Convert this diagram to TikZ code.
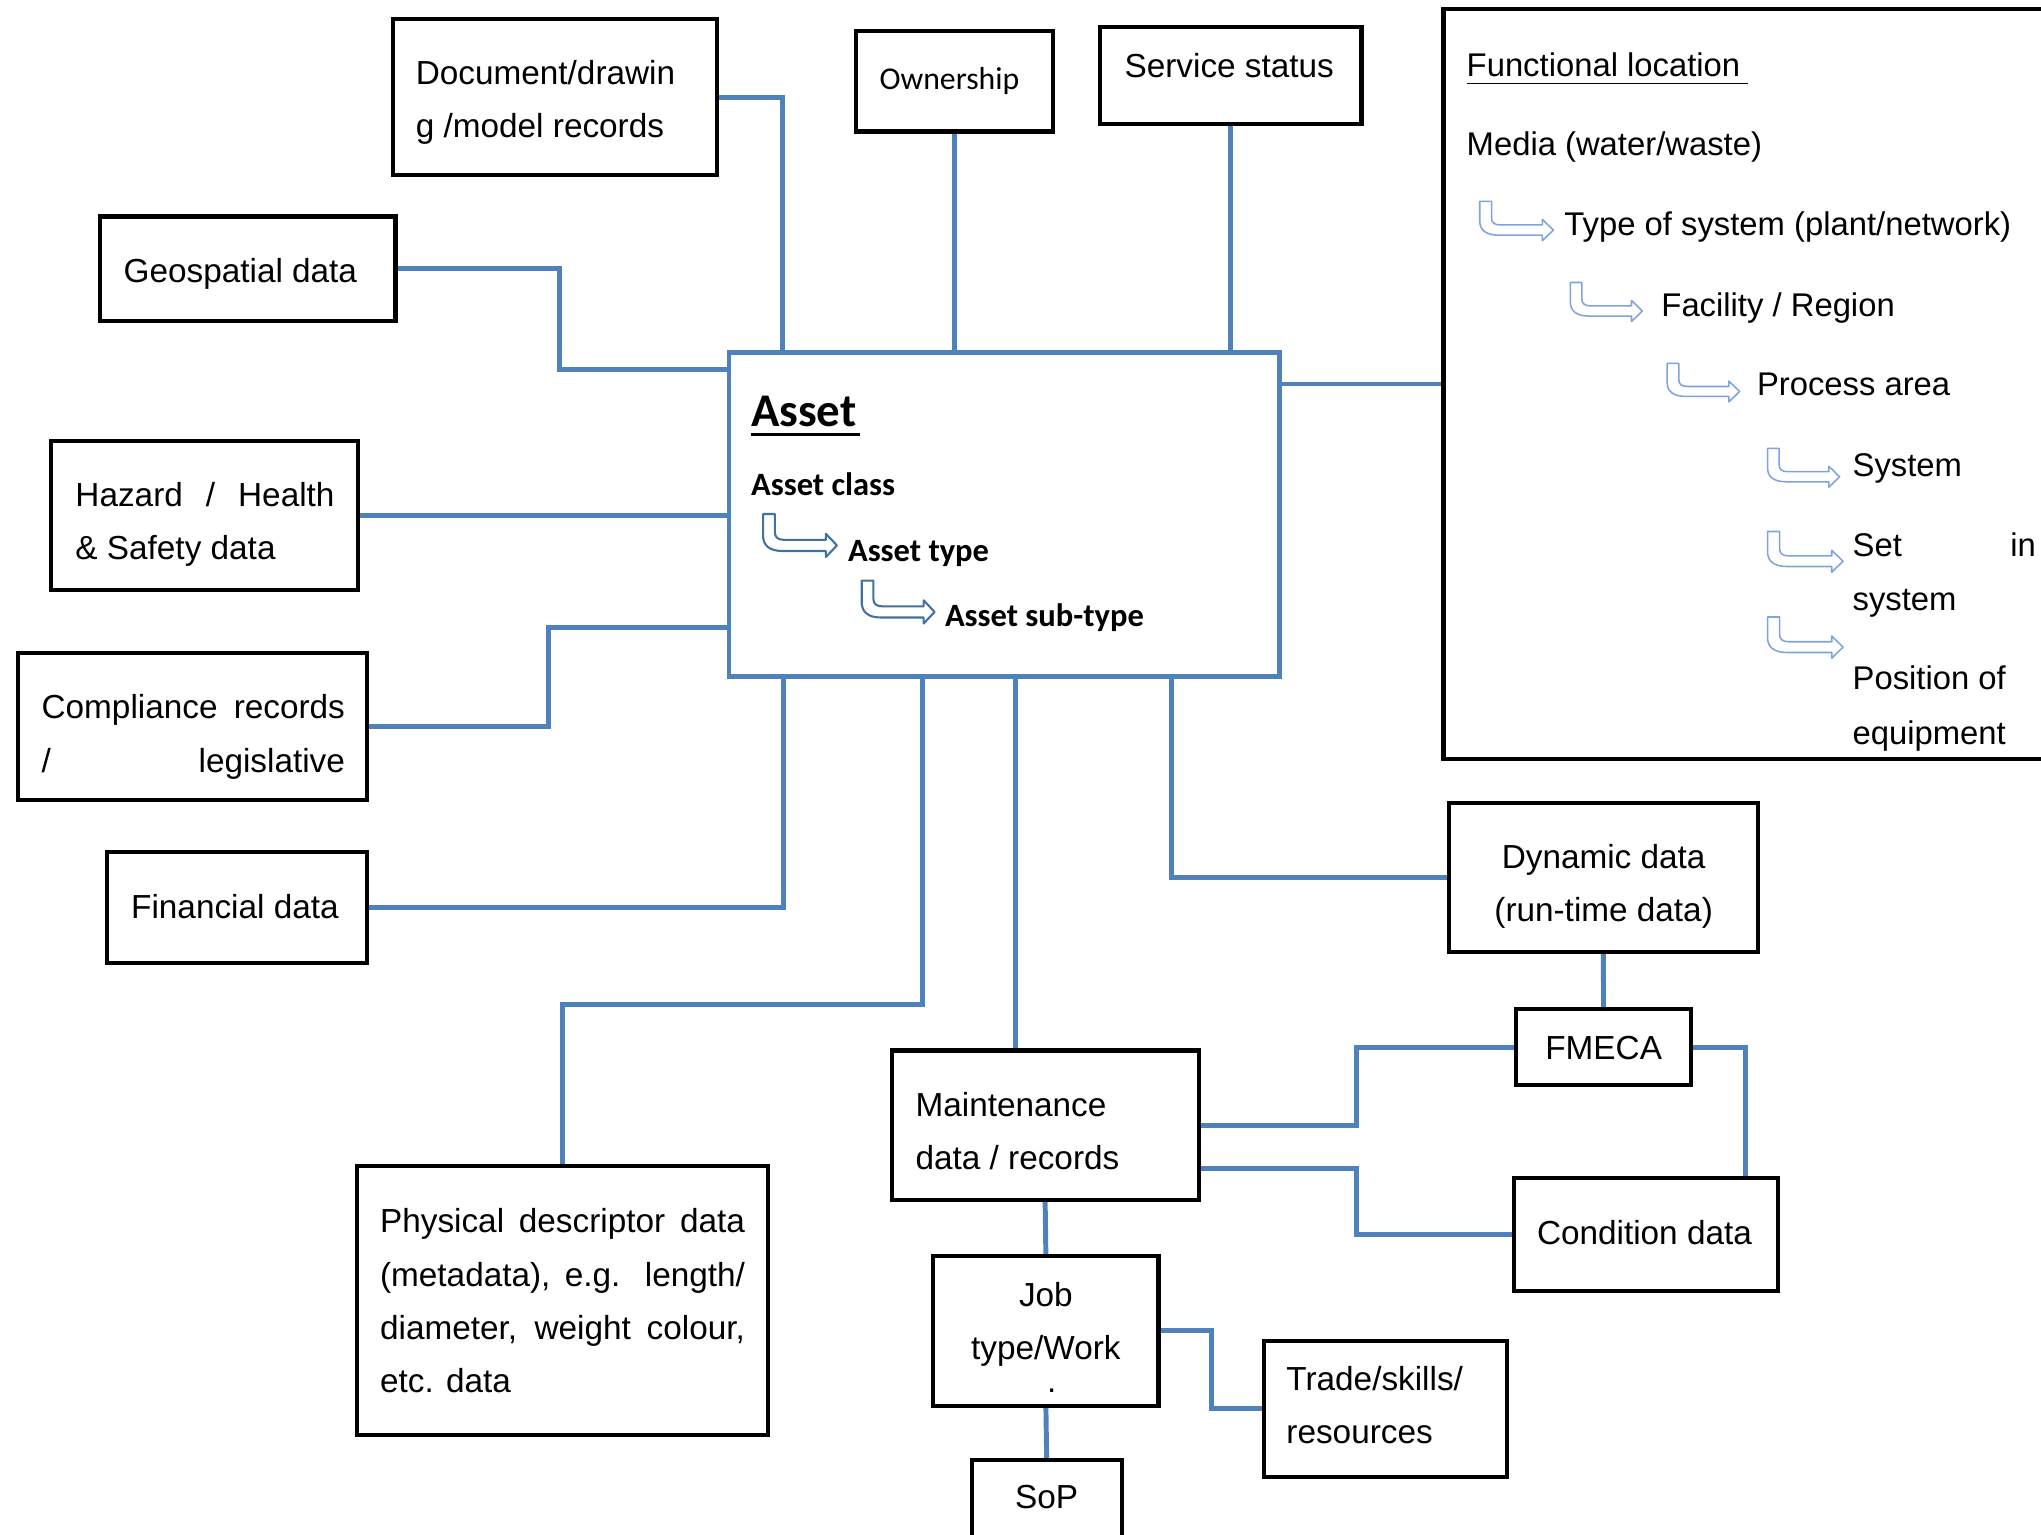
\documentclass[tikz,border=0pt]{standalone}
\usepackage{fontspec}
\setmainfont{Liberation Sans}
\newfontfamily\calibri{Carlito}
\usetikzlibrary{backgrounds}

\definecolor{linkblue}{HTML}{4F81BD}
\definecolor{arrowblue}{HTML}{41719C}
\definecolor{lightarrow}{HTML}{7FA3DA}

\tikzset{
  box/.style={draw=black, line width=1.6pt, rectangle, inner sep=0pt, outer sep=0pt},
  hub/.style={draw=linkblue, line width=1.9pt, rectangle, inner sep=0pt, outer sep=0pt},
  link/.style={draw=linkblue, line width=1.9pt},
  txt/.style={inner sep=0pt, outer sep=0pt, anchor=base west, font=\fontsize{12.8}{15}\selectfont},
  ctxt/.style={txt, anchor=base},
  ftxt/.style={txt, font=\fontsize{12.6}{15}\selectfont},
  atxt/.style={txt, font=\calibri\bfseries\fontsize{12.5}{15}\selectfont},
  darrow/.style={draw=arrowblue, line width=0.8pt, line join=round},
  larrow/.style={draw=lightarrow, line width=0.6pt, line join=round},
}

% hollow bent arrow: left x, top y, width, height, style
\newcommand\bentarrow[5]{%
  \draw[#5, shift={(#1,#2)}, xscale=#3, yscale=#4]
    (0,0) -- (0.16,0) -- (0.16,0.42)
    .. controls (0.16,0.54) and (0.2,0.6) .. (0.28,0.6)
    -- (0.85,0.6) -- (0.85,0.46) -- (1,0.73) -- (0.85,1) -- (0.85,0.86)
    -- (0.26,0.86) .. controls (0.08,0.86) and (0,0.72) .. (0,0.5) -- cycle;}

\begin{document}
\begin{tikzpicture}[x=0.5pt, y=-0.5pt]
\useasboundingbox (0,0) rectangle (1568,1179);
\clip (0,0) rectangle (1568,1179);

% ---- central asset box ----
\node[hub, minimum width=211.35pt, minimum height=124.4pt] (asset) at (771.4,395.1) {};
\node[txt, font=\calibri\bfseries\fontsize{18}{20}\selectfont] (atitle) at (577,328) {Asset};
\draw[line width=1.1pt] (atitle.base west |- 0,333.5) -- (661,333.5);
\node[atxt] (aclass) at (577,381) {Asset class};
\node[atxt] (atype) at (651.5,431.6) {Asset type};
\node[atxt] (asub) at (726,481.6) {Asset sub-type};
\bentarrow{586.2}{394.9}{56.8}{33}{darrow}
\bentarrow{662}{446}{56}{33}{darrow}

% ---- surrounding boxes ----
\node[box, minimum width=124.5pt, minimum height=60pt] (doc) at (426.5,74.75) {};
\node[txt] (doc1) at (319.5,64.7) {Document/drawin};
\node[txt] (doc2) at (319.5,106) {g /model records};

\node[box, minimum width=75.5pt, minimum height=38.7pt] (own) at (733.2,62.3) {};
\node[txt, font=\calibri\fontsize{12.2}{14}\selectfont] (own1) at (675.7,68.6) {Ownership};

\node[box, minimum width=100.5pt, minimum height=37pt] (svc) at (945.5,58) {};
\node[txt] (svc1) at (864,59.4) {Service status};

\node[box, minimum width=113.4pt, minimum height=40.2pt] (geo) at (190.4,206.5) {};
\node[txt] (geo1) at (95,217) {Geospatial data};

\node[box, minimum width=117.9pt, minimum height=57pt] (haz) at (157.1,396) {};
\node[txt] (haz1) at (58,389) {\makebox[99.5pt][s]{Hazard / Health}};
\node[txt] (haz2) at (58,430) {\& Safety data};

\node[box, minimum width=134pt, minimum height=56.6pt] (comp) at (148,558) {};
\node[txt] (comp1) at (32,551.8) {\makebox[116.5pt][s]{Compliance records}};
\node[txt] (comp2) at (32,593.6) {\makebox[116.5pt][s]{/ legislative}};

\node[box, minimum width=99.85pt, minimum height=42.6pt] (fin) at (182.2,697.4) {};
\node[txt] (fin1) at (100.8,705.5) {Financial data};

\node[box, minimum width=158pt, minimum height=103.3pt] (phys) at (432.3,999.1) {};
\node[txt] (phys1) at (292,946.5) {\makebox[140.15pt][s]{Physical descriptor data}};
\node[txt] (phys2) at (292,988) {\makebox[140.15pt][s]{(metadata), e.g. length/}};
\node[txt] (phys3) at (292,1029) {\makebox[140.15pt][s]{diameter, weight colour,}};
\node[txt] (phys4) at (292,1069.8) {etc. data};

\node[box, minimum width=117.95pt, minimum height=57.3pt] (maint) at (802.9,864.3) {};
\node[txt] (maint1) at (703.4,857.4) {Maintenance};
\node[txt] (maint2) at (703.4,898.5) {data / records};

\node[box, minimum width=86.5pt, minimum height=57.5pt] (job) at (803.5,1022.5) {};
\node[ctxt] (job1) at (803.5,1003.8) {Job};
\node[ctxt] (job2) at (803.5,1044.8) {type/Work};
\node[ctxt] (job3) at (808,1070) {.};

\node[box, minimum width=57.6pt, minimum height=36.7pt] (sop) at (804.1,1158.3) {};
\node[ctxt] (sop1) at (804,1159) {SoP};

\node[box, minimum width=93.45pt, minimum height=52.4pt] (trade) at (1064.2,1082.3) {};
\node[txt] (trade1) at (988.3,1067.9) {Trade/skills/};
\node[txt] (trade2) at (988.3,1109) {resources};

\node[box, minimum width=101.5pt, minimum height=43.3pt] (cond) at (1264.5,948.3) {};
\node[txt] (cond1) at (1180.8,955.7) {Condition data};

\node[box, minimum width=67.15pt, minimum height=29.2pt] (fmeca) at (1231.9,804.4) {};
\node[ctxt] (fmeca1) at (1232,814) {FMECA};

\node[box, minimum width=118.45pt, minimum height=57.25pt] (dyn) at (1231.8,673.9) {};
\node[ctxt] (dyn1) at (1232,667) {Dynamic data};
\node[ctxt] (dyn2) at (1232,708) {(run-time data)};

% ---- functional location hierarchy ----
\node[box, minimum width=240.5pt, minimum height=288pt] (func) at (1349.5,295) {};
\node[ftxt] (f0) at (1126.8,58.5) {Functional location};
\draw[line width=0.6pt] (f0.base west |- 0,64.2) -- (1342.6,64.2);
\node[ftxt] (f1) at (1126.8,119.5) {Media (water/waste)};
\node[ftxt] (f2) at (1201.9,181) {Type of system (plant/network)};
\node[ftxt] (f3) at (1276.4,243.4) {Facility / Region};
\node[ftxt] (f4) at (1349.8,304.1) {Process area};
\node[ftxt] (f5) at (1423.3,366) {System};
\node[ftxt] (f6) at (1423.3,427.5) {\makebox[70.35pt][s]{Set in}};
\node[ftxt] (f7) at (1423.3,469) {system};
\node[ftxt] (f8) at (1423.3,530) {Position of};
\node[ftxt] (f9) at (1423.3,571.7) {equipment};
\bentarrow{1136.8}{154.7}{56.6}{30.2}{larrow}
\bentarrow{1206.4}{217}{55.3}{30}{larrow}
\bentarrow{1280.8}{279.2}{55.7}{29.5}{larrow}
\bentarrow{1357.9}{344.5}{55.4}{29.8}{larrow}
\bentarrow{1357.9}{408.3}{58}{31.3}{larrow}
\bentarrow{1357.9}{474}{58}{31.7}{larrow}

% ---- connectors ----
\begin{scope}[on background layer]
\draw[link] (doc.east) -| (asset.north -| 601,0);
\draw[link] (own.south) -- (own.south |- asset.north);
\draw[link] (svc.south) -- (svc.south |- asset.north);
\draw[link] (asset.east |- 0,295) -- (func.west |- 0,295);
\draw[link] (geo.east) -| (430,284) -- (asset.west |- 0,284);
\draw[link] (haz.east) -- (asset.west |- haz.east);
\draw[link] (comp.east) -| (421.4,482) -- (asset.west |- 0,482);
\draw[link] (fin.east) -| (asset.south -| 601.6,0);
\draw[link] (phys.north) |- (708.6,772) -- (asset.south -| 708.6,0);
\draw[link] (asset.south -| 779.8,0) -- (maint.north -| 779.8,0);
\draw[link] (asset.south -| 899.9,0) |- (dyn.west);
\draw[link] (dyn.south) -- (fmeca.north);
\draw[link] (maint.east) -| (1042,804.4) -- (fmeca.west);
\draw[link] (maint.east |- 0,897.5) -| (1042,948.3) -- (cond.west);
\draw[link] (fmeca.east) -| (cond.north -| 1341,0);
\draw[link] (maint.south) -- (job.north);
\draw[link] (job.south) -- (sop.north);
\draw[link] (job.east) -| (930.4,1082.3) -- (trade.west);
\end{scope}
\end{tikzpicture}
\end{document}
